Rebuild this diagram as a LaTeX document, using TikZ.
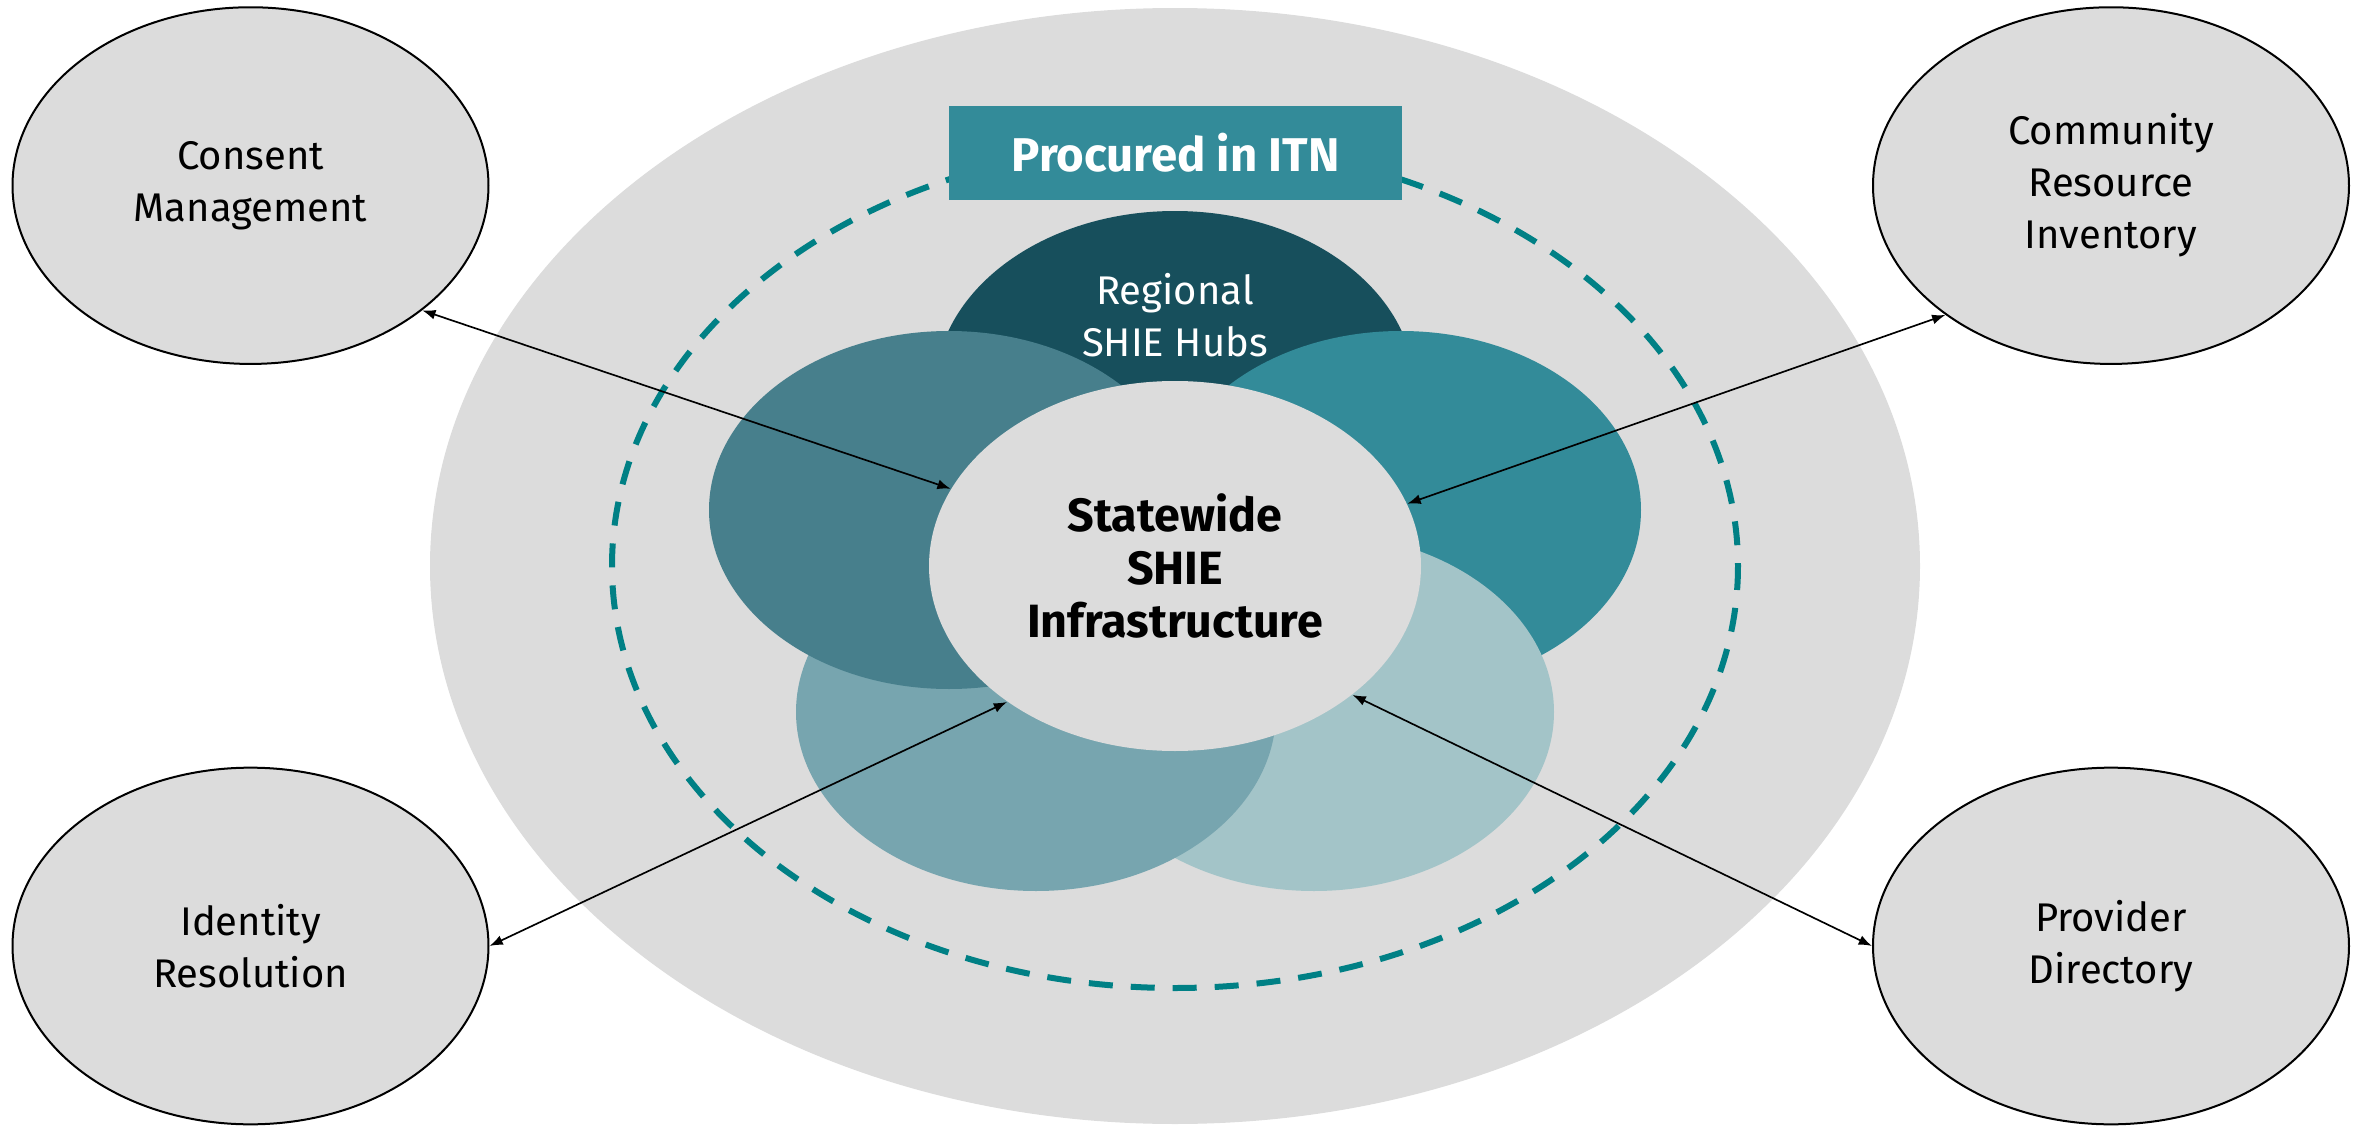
\documentclass[tikz,border=0pt]{standalone}
\usepackage{fontspec}
\setmainfont{Fira Sans}
\usetikzlibrary{shapes.geometric,arrows.meta}
\definecolor{bggray}{RGB}{220,220,220}
\definecolor{dashteal}{RGB}{0,128,133}
\definecolor{petaltop}{RGB}{23,79,92}
\definecolor{petalleft}{RGB}{71,127,140}
\definecolor{petalright}{RGB}{51,139,153}
\definecolor{petalbl}{RGB}{119,165,175}
\definecolor{petalbr}{RGB}{163,196,200}
\tikzset{
  sat/.style={ellipse, draw=black, line width=0.6pt, fill=bggray, minimum width=142.8pt, minimum height=107pt, inner sep=0pt, align=center, font=\fontsize{12}{15.6}\selectfont},
  petal/.style={ellipse, draw=none, minimum width=144pt, minimum height=107.4pt, inner sep=0pt},
  arr/.style={line width=0.5pt, {Latex[length=4pt,width=3pt]}-{Latex[length=4pt,width=3pt]}}
}
\begin{document}
\begin{tikzpicture}[x=0.3pt,y=-0.3pt]
\useasboundingbox (0,0) rectangle (2366,1127);
% big background ellipse
\fill[bggray] (1175,566) ellipse [x radius=745, y radius=558];
% dashed ring
\draw[dashteal, line width=1.8pt, dash pattern=on 7.2pt off 5.4pt] (1175,566) ellipse [x radius=563, y radius=422];
% procured box
\node[fill=petalright, minimum width=135.9pt, minimum height=28.2pt, inner sep=0pt, text=white, font=\bfseries\fontsize{14.2}{16}\selectfont] (itn) at (1175.5,153) {Procured in ITN};
% petals
\node[petal, fill=petaltop] (ptop) at (1175,390) {};
\node[petal, fill=petalright] (pright) at (1401,510) {};
\node[petal, fill=petalbr] (pbr) at (1314,712) {};
\node[petal, fill=petalbl] (pbl) at (1036,712) {};
\node[petal, fill=petalleft] (pleft) at (949,510) {};
\node[text=white, align=center, font=\fontsize{12}{15.6}\selectfont] (reg) at (1175,315) {Regional\\SHIE Hubs};
% center
\node[ellipse, fill=bggray, minimum width=147.6pt, minimum height=111pt, inner sep=0pt, align=center, font=\bfseries\fontsize{14}{16}\selectfont] (cen) at (1175,566) {Statewide\\SHIE\\Infrastructure};
% satellites
\node[sat] (cm) at (250.5,185.6) {Consent\\Management};
\node[sat] (cri) at (2111,185.6) {Community\\Resource\\Inventory};
\node[sat] (ir) at (250.5,946) {Identity\\Resolution};
\node[sat] (pd) at (2111,946) {Provider\\Directory};
% connectors
\draw[arr] (cm.-36.7) -- (cen.161.5);
\draw[arr] (cri.-142.5) -- (cen.15.3);
\draw[arr] (ir.0) -- (cen.-141.8);
\draw[arr] (pd.180) -- (cen.-36.8);
\end{tikzpicture}
\end{document}
